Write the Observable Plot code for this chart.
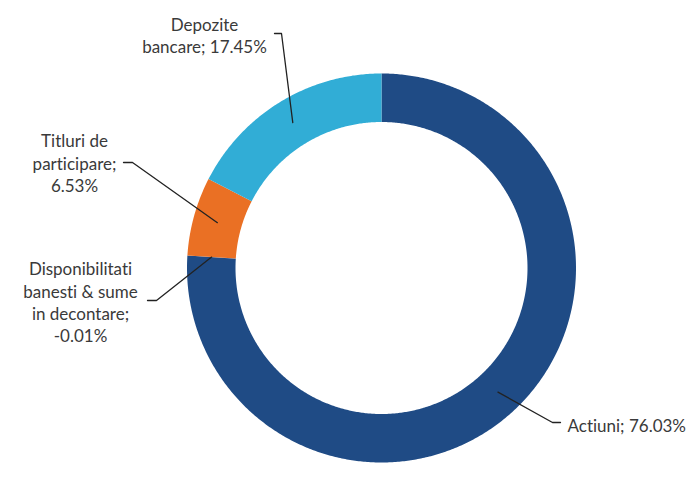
<!DOCTYPE html>
<html><head><meta charset="utf-8">
<script src="https://cdn.jsdelivr.net/npm/d3@7"></script>
<script src="https://cdn.jsdelivr.net/npm/@observablehq/plot@0.6"></script>
<style>body{margin:0;background:#fff} svg text{font-variant-ligatures:none;font-feature-settings:"liga" 0}</style>
</head><body><div id="chart"></div>
<script>
// ---- data ----
const categories = ["Actiuni", "Disponibilitati banesti & sume in decontare", "Titluri de participare", "Depozite bancare"];
const values = [76.03, -0.01, 6.53, 17.45];
const labels = ["Actiuni; 76.03%", "Disponibilitati\nbanesti & sume\nin decontare;\n-0.01%", "Titluri de\nparticipare;\n6.53%", "Depozite\nbancare; 17.45%"];
const colors = ["#1f4b85", "#1f4b85", "#ea7024", "#31add6"];

// ---- layout ----
const W = 696, H = 481, CX = 381, CY = 267.5, R = 194.5, RI = 146;
const inner = RI / R, mid = (1 + inner) / 2;
const ux = px => (px - CX) / R, uy = py => (CY - py) / R;
// label layout in pixels: text position, anchor, leader elbow (outer, inner)
const labelLayout = [
  {tx: 567, ty: 424, anchor: "start",  e0: [560, 422], e1: [552, 422]},
  {tx: 80,  ty: 301, anchor: "middle", e0: [147, 300], e1: [156, 300]},
  {tx: 74,  ty: 162, anchor: "middle", e0: [123, 162], e1: [132, 162]},
  {tx: 204, ty: 34,  anchor: "middle", e0: [274, 33],  e1: [281, 33]}
];

const total = d3.sum(values, v => Math.abs(v));
let acc = 0;
const slices = categories.map((c, i) => {
  const a0 = acc / total * 2 * Math.PI;
  acc += Math.abs(values[i]);
  const a1 = acc / total * 2 * Math.PI;
  return {name: c, a0, a1, am: (a0 + a1) / 2, color: colors[i], label: labels[i]};
});

const ringMarks = slices.filter(s => s.a1 - s.a0 > 1e-9).map(s => {
  const n = Math.max(2, Math.ceil((s.a1 - s.a0) / (Math.PI / 360)));
  const pts = [];
  for (let k = 0; k <= n; k++) { const a = s.a0 + (s.a1 - s.a0) * k / n; pts.push({x: Math.sin(a), y: Math.cos(a)}); }
  for (let k = n; k >= 0; k--) { const a = s.a0 + (s.a1 - s.a0) * k / n; pts.push({x: inner * Math.sin(a), y: inner * Math.cos(a)}); }
  return Plot.line(pts, {x: "x", y: "y", fill: s.color, stroke: "none"});
});

const leaders = [];
const textRows = [];
slices.forEach((s, i) => {
  const L = labelLayout[i];
  leaders.push({name: s.name, x: ux(L.e0[0]), y: uy(L.e0[1])});
  leaders.push({name: s.name, x: ux(L.e1[0]), y: uy(L.e1[1])});
  leaders.push({name: s.name, x: mid * Math.sin(s.am), y: mid * Math.cos(s.am)});
  textRows.push({x: ux(L.tx), y: uy(L.ty), text: s.label, anchor: L.anchor});
});

const textOpts = {x: "x", y: "y", text: "text", lineAnchor: "middle", fontSize: 17, lineHeight: 1.3, fill: "#3a3a3a", fontFamily: "Lato"};

const chart = Plot.plot({
  width: W, height: H, margin: 0,
  x: {domain: [-1, 1], range: [CX - R, CX + R], axis: null},
  y: {domain: [-1, 1], range: [CY + R, CY - R], axis: null},
  marks: [
    ...ringMarks,
    Plot.line(leaders, {x: "x", y: "y", z: "name", stroke: "#222", strokeWidth: 1.3}),
    Plot.text(textRows.filter(d => d.anchor === "middle"), {...textOpts, textAnchor: "middle"}),
    Plot.text(textRows.filter(d => d.anchor === "start"), {...textOpts, textAnchor: "start"})
  ]
});
document.getElementById("chart").appendChild(chart);
</script>
</body></html>
